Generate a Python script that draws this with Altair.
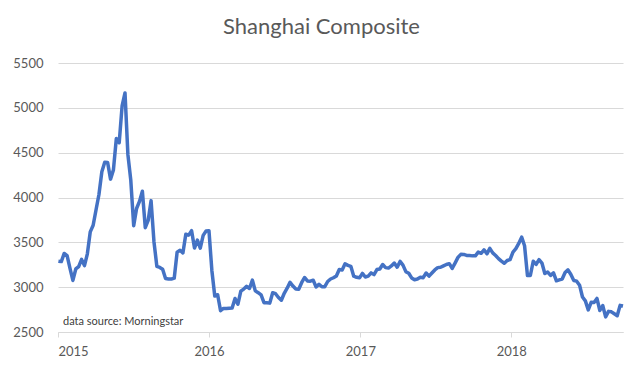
import altair as alt
import pandas as pd

# Weekly closes (Fridays)
start_date = "2015-01-02"
v2015 = [3290, 3285, 3376, 3351, 3210, 3075, 3203, 3230, 3310, 3241, 3372, 3617, 3691,
         3863, 4034, 4287, 4393, 4390, 4205, 4308, 4657, 4611, 5023, 5166, 4478, 4192,
         3686, 3877, 3957, 4070, 3663, 3744, 3965, 3507, 3232, 3220, 3200, 3097, 3092,
         3090, 3100, 3391, 3412, 3382, 3590, 3580, 3630, 3436, 3525, 3435, 3578, 3627]
v2016 = [3630, 3186, 2901, 2916, 2737, 2763, 2763, 2765, 2767, 2874, 2810, 2955, 2979,
         3009, 2985, 3078, 2959, 2938, 2913, 2827, 2826, 2822, 2938, 2927, 2885, 2854,
         2932, 2988, 3054, 3012, 2979, 2977, 3050, 3108, 3070, 3067, 3078, 3002, 3033,
         3005, 3005, 3063, 3091, 3105, 3125, 3196, 3192, 3261, 3243, 3232, 3123, 3110, 3104]
v2017 = [3154, 3113, 3123, 3159, 3140, 3196, 3202, 3253, 3218, 3213, 3237, 3269, 3223,
         3287, 3246, 3173, 3155, 3103, 3083, 3091, 3111, 3106, 3158, 3123, 3158, 3192,
         3218, 3222, 3238, 3253, 3262, 3209, 3269, 3332, 3366, 3365, 3354, 3352, 3349,
         3349, 3391, 3378, 3417, 3372, 3433, 3382, 3353, 3318, 3290, 3267, 3297, 3307]
v2018 = [3391, 3429, 3488, 3558, 3462, 3129, 3130, 3289, 3254, 3307, 3269, 3152, 3169,
         3131, 3159, 3071, 3082, 3091, 3163, 3193, 3141, 3075, 3067, 3022, 2890, 2847,
         2747, 2831, 2829, 2874, 2740, 2795, 2669, 2730, 2725, 2703, 2682, 2797, 2790]

values = v2015 + v2016 + v2017 + v2018
dates = pd.date_range(start_date, periods=len(values), freq="W-FRI")
df = pd.DataFrame({"date": dates.strftime("%Y-%m-%d"), "close": values})

years = [2015, 2016, 2017, 2018]
y_ticks = [2500, 3000, 3500, 4000, 4500, 5000, 5500]
title_text = "Shanghai Composite"
note_text = ["data source: Morningstar"]

x_enc = alt.X(
    "date:T",
    scale=alt.Scale(type="utc", domain=[alt.DateTime(year=2015, month=1, date=1, utc=True),
                                        alt.DateTime(year=2018, month=9, date=28, utc=True)]),
    axis=alt.Axis(
        values=[alt.DateTime(year=y, month=1, date=1, utc=True) for y in years],
        labelExpr="utcFormat(datum.value, '%Y')",
        title=None, grid=False, domain=True, domainColor="#d9d9d9", domainWidth=1,
        ticks=True, tickColor="#d9d9d9", tickSize=5, labelPadding=8,
        labelFont="Lato", labelFontSize=13, labelColor="#595959",
    ),
)
y_enc = alt.Y(
    "close:Q",
    scale=alt.Scale(domain=[2500, 5500], nice=False, zero=False),
    axis=alt.Axis(
        values=y_ticks, format="d", title=None, grid=True, gridColor="#d9d9d9",
        gridWidth=1, domain=False, ticks=False, labelPadding=15,
        labelFont="Lato", labelFontSize=13, labelColor="#595959",
    ),
)

line = alt.Chart(df).mark_line(color="#4472C4", strokeWidth=3.5, strokeJoin="round").encode(
    x=x_enc, y=y_enc
)

note = alt.Chart(pd.DataFrame({"t": note_text})).mark_text(
    align="left", baseline="alphabetic", font="Lato", fontSize=11, color="#404040"
).encode(text="t:N", x=alt.value(5), y=alt.value(262))

chart = (
    alt.layer(line, note)
    .properties(
        width=565, height=269,
        autosize=alt.AutoSizeParams(type="none"),
        padding={"left": 50, "top": 55, "right": 12, "bottom": 33},
        title=alt.TitleParams(
            title_text, font="Lato", fontSize=22, fontWeight="normal", color="#595959",
            anchor="middle", dx=-19, offset=18,
        ),
        background="white",
    )
    .configure_view(stroke=None)
)

chart.save("out.html", embed_options={"renderer": "svg", "actions": False})
